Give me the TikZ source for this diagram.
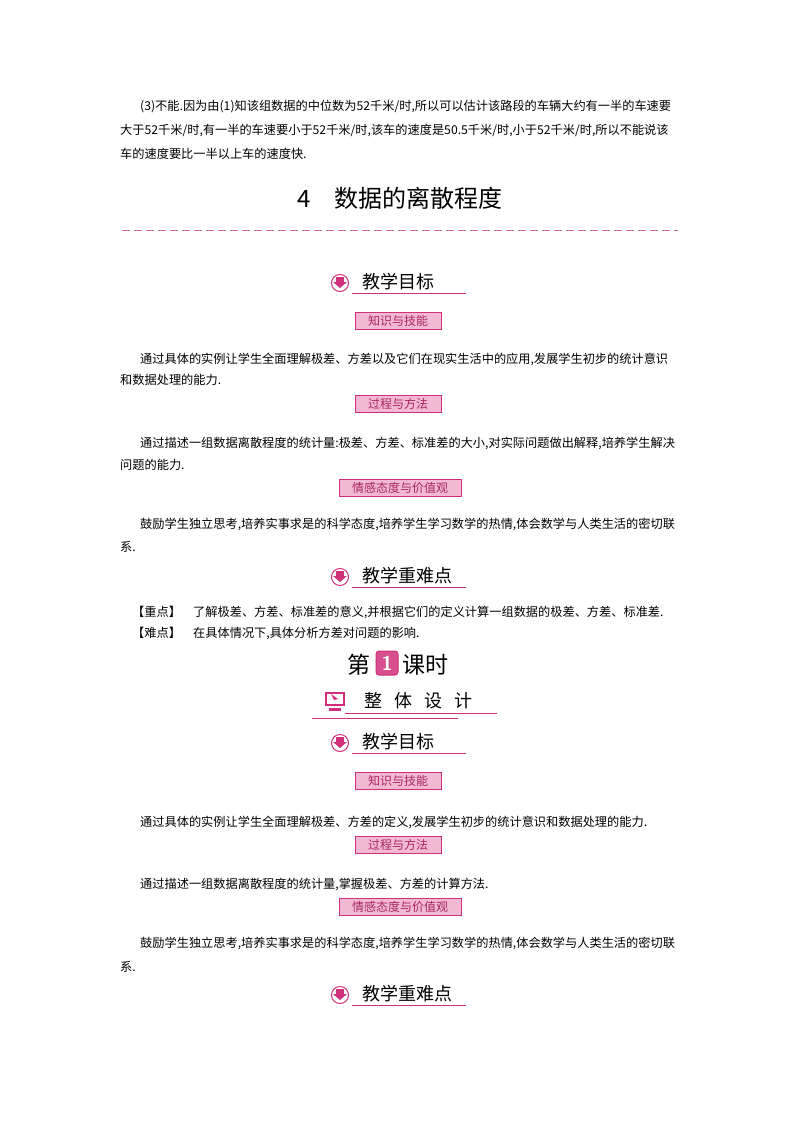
\documentclass[tikz,border=0pt]{standalone}
\usepackage{fontspec}
\setmainfont{Liberation Serif}
\newfontfamily\cjk{Noto Sans CJK SC}
\definecolor{pk}{HTML}{D0307A}
\definecolor{pkl}{HTML}{F3B8D3}
\begin{document}
\begin{tikzpicture}[x=1pt,y=-1pt,
 body/.style={anchor=west,inner sep=0pt,font=\cjk\fontsize{12.2}{13}\selectfont},
 lab/.style={draw=pk,fill=pkl,line width=0.8pt,inner sep=2pt,minimum height=17pt,font=\cjk\fontsize{12}{13}\selectfont,text=pk!80!black},
 hd/.style={anchor=west,inner sep=0pt,font=\cjk\fontsize{18}{19}\selectfont},
 icon/.style={circle,draw=pk,line width=1pt,fill=white,minimum size=17pt,inner sep=0pt}]
\useasboundingbox (0,0) rectangle (800,1132);
\fill[white] (0,0) rectangle (800,1132);
\newcommand\heading[2]{%
 \draw[pk,line width=0.8pt] (352,#1+10) -- (466,#1+10);
 \node[icon] (ic#2) at (340,#1) {};
 \fill[pk] (336,#1-6) rectangle (344,#1-1);
 \fill[pk] (333,#1-1) -- (347,#1-1) -- (340,#1+5) -- cycle;
}
\node[body] (t1) at (140,107) {(3)不能.因为由(1)知该组数据的中位数为52千米/时,所以可以估计该路段的车辆大约有一半的车速要};
\node[body] (t2) at (120,131) {大于52千米/时,有一半的车速要小于52千米/时,该车的速度是50.5千米/时,小于52千米/时,所以不能说该};
\node[body] (t3) at (120,154) {车的速度要比一半以上车的速度快.};
\node[font=\cjk\fontsize{24}{26}\selectfont] (title) at (400,198) {4\quad 数据的离散程度};
\draw[pk!70,line width=1pt,dash pattern=on 8pt off 4pt] (122,230) -- (678,230);
% block 1
\heading{283}{a}
\node[hd] (h1) at (362,282) {教学目标};
\node[lab,minimum width=86pt] (l1) at (398,321) {知识与技能};
\node[body] (p1) at (140,359) {通过具体的实例让学生全面理解极差、方差以及它们在现实生活中的应用,发展学生初步的统计意识};
\node[body] (p2) at (120,380) {和数据处理的能力.};
\node[lab,minimum width=86pt] (l2) at (398,404) {过程与方法};
\node[body] (p3) at (140,443) {通过描述一组数据离散程度的统计量:极差、方差、标准差的大小,对实际问题做出解释,培养学生解决};
\node[body] (p4) at (120,465) {问题的能力.};
\node[lab,minimum width=122pt] (l3) at (400,488) {情感态度与价值观};
\node[body] (p5) at (140,524) {鼓励学生独立思考,培养实事求是的科学态度,培养学生学习数学的热情,体会数学与人类生活的密切联};
\node[body] (p6) at (120,547) {系.};
\heading{577}{b}
\node[hd] (h2) at (362,576) {教学重难点};
\node[body] (k1) at (132,612) {【重点】\quad 了解极差、方差、标准差的意义,并根据它们的定义计算一组数据的极差、方差、标准差.};
\node[body] (k2) at (132,633) {【难点】\quad 在具体情况下,具体分析方差对问题的影响.};
% lesson
\node[font=\cjk\fontsize{23}{24}\selectfont,anchor=east] (d1) at (374,665) {第};
\node[draw=pk,fill=pk!85,rounded corners=3pt,line width=1pt,minimum width=22pt,minimum height=24pt,inner sep=0pt,font=\sffamily\bfseries\fontsize{20}{20}\selectfont,text=white] (one) at (387,663) {1};
\node[font=\cjk\fontsize{23}{24}\selectfont,anchor=west] (d2) at (399,665) {课时};
\draw[pk,line width=0.8pt] (345,713) -- (497,713);
\draw[pk,line width=0.8pt] (312,718) -- (458,718);
\node[draw=pk,fill=white,line width=2pt,minimum width=18pt,minimum height=12pt,inner sep=0pt] (mon) at (335,699) {};
\fill[pk] (329,708) rectangle (341,711);
\fill[pk] (331,694) -- (338,699) -- (334,700) -- cycle;
\node[hd,font=\cjk\fontsize{18}{19}\selectfont] (zt) at (364,701) {整\hspace{12pt}体\hspace{12pt}设\hspace{12pt}计};
\heading{743}{c}
\node[hd] (h3) at (362,742) {教学目标};
\node[lab,minimum width=86pt] (l4) at (398,781) {知识与技能};
\node[body] (q1) at (140,822) {通过具体的实例让学生全面理解极差、方差的定义,发展学生初步的统计意识和数据处理的能力.};
\node[lab,minimum width=86pt] (l5) at (398,845) {过程与方法};
\node[body] (q2) at (140,884) {通过描述一组数据离散程度的统计量,掌握极差、方差的计算方法.};
\node[lab,minimum width=122pt] (l6) at (400,907) {情感态度与价值观};
\node[body] (q3) at (140,943) {鼓励学生独立思考,培养实事求是的科学态度,培养学生学习数学的热情,体会数学与人类生活的密切联};
\node[body] (q4) at (120,967) {系.};
\heading{995}{d}
\node[hd] (h4) at (362,994) {教学重难点};
\end{tikzpicture}
\end{document}
